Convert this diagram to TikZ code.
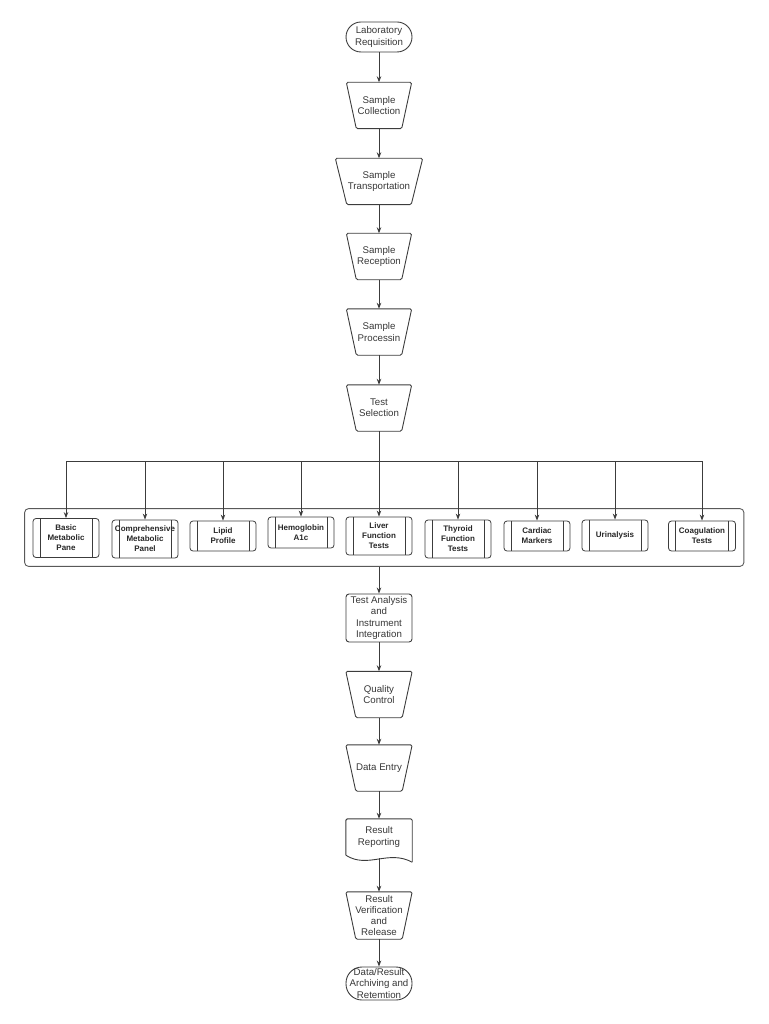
\documentclass[tikz,border=0pt]{standalone}
\usepackage{fontspec}
\setmainfont{Liberation Sans}
\usepackage{xcolor}
\definecolor{lineColor}{RGB}{60, 60, 60}
\definecolor{textColor}{RGB}{55, 55, 55}
\usetikzlibrary{arrows.meta, fit}

\begin{document}
\begin{tikzpicture}[x=1pt, y=-1pt,
    flow/.style={text=textColor, align=center, inner sep=1pt,
        font=\fontsize{9.7}{11.2}\selectfont, minimum width=65pt, minimum height=46pt},
    terminal/.style={flow, draw=lineColor, line width=0.9pt, rounded corners=15pt,
        minimum width=66pt, minimum height=30pt},
    procbox/.style={flow, draw=lineColor, line width=0.9pt, rounded corners=3pt,
        minimum width=66pt, minimum height=48pt},
    testbox/.style={draw=lineColor, line width=0.8pt, rounded corners=3pt, text=black!85,
        minimum width=66pt, minimum height=30pt, align=center, inner sep=1pt,
        font=\bfseries\fontsize{8}{10}\selectfont,
        path picture={\draw[lineColor, line width=0.8pt]
            ([xshift=7pt]path picture bounding box.north west) -- ([xshift=7pt]path picture bounding box.south west)
            ([xshift=-7pt]path picture bounding box.north east) -- ([xshift=-7pt]path picture bounding box.south east);}},
    panelbox/.style={draw=lineColor!85, line width=0.9pt, rounded corners=4pt, inner sep=8pt},
    arrow/.style={-{Stealth[length=6pt, width=4.5pt]}, draw=lineColor, line width=0.9pt},
    border/.style={draw=lineColor, line width=0.9pt, rounded corners=1.5pt}]
    \useasboundingbox (0,0) rectangle (768,1024);

    % main flow, top half
    \node[terminal] (lab) at (379,37) {Laboratory\\Requisition};
    \node[flow] (collect) at (379,105.5) {Sample\\Collection};
    \node[flow, minimum width=87pt] (transp) at (379,181.5) {Sample\\Transportation};
    \node[flow] (recep) at (379,256.5) {Sample\\Reception};
    \node[flow] (proc) at (379,332) {Sample\\Processin};
    \node[flow] (sel) at (379,408) {Test\\Selection};

    % test panel
    \coordinate (bus) at (379,461);
    \node[testbox, minimum height=39pt] (basic) at (66,538) {Basic\\Metabolic\\Pane};
    \node[testbox, minimum height=38pt] (comp) at (145,539) {Comprehensive\\Metabolic\\Panel};
    \node[testbox] (lipid) at (223,536) {Lipid\\Profile};
    \node[testbox, minimum height=31pt] (hemo) at (301,532.5) {Hemoglobin\\A1c};
    \node[testbox, minimum height=38pt] (liver) at (379,536) {Liver\\Function\\Tests};
    \node[testbox, minimum height=38pt] (thyroid) at (458,539) {Thyroid\\Function\\Tests};
    \node[testbox] (cardiac) at (537,536) {Cardiac\\Markers};
    \node[testbox, minimum height=31pt] (urin) at (615,535.5) {Urinalysis};
    \node[testbox, minimum width=67pt] (coag) at (702,536) {Coagulation\\Tests};
    \node[panelbox, fit=(basic) (comp) (hemo) (coag)] (panel) {};

    % main flow, bottom half
    \node[procbox] (analysis) at (379,618) {Test Analysis\\and\\Instrument\\Integration};
    \node[flow, minimum width=66pt] (qc) at (379,694.5) {Quality\\Control};
    \node[flow, minimum width=66pt] (entry) at (379,768) {Data Entry};
    \node[flow, minimum width=66pt, minimum height=36pt] (report) at (379,837) {Result\\Reporting};
    \node[flow, minimum width=66pt, minimum height=47pt] (verif) at (379,915.5) {Result\\Verification\\and\\Release};
    \node[terminal, rounded corners=16pt, minimum height=33pt] (arch) at (379,983.5) {Data/Result\\Archiving and\\Retemtion};

    % manual input shapes
    \foreach \n in {collect, recep, proc, sel, qc, entry, verif}
        \draw[border] (\n.north west) -- (\n.north east) -- ([xshift=-10pt]\n.south east)
            -- ([xshift=10pt]\n.south west) -- cycle;
    \draw[border] (transp.north west) -- (transp.north east) -- ([xshift=-11.5pt]transp.south east)
        -- ([xshift=11.5pt]transp.south west) -- cycle;
    % document shape
    \draw[border] (report.south west) -- (report.north west) -- (report.north east)
        -- ([yshift=-7pt]report.south east);
    \draw[lineColor, line width=0.9pt] (report.south west)
        .. controls ([xshift=22pt, yshift=-14pt]report.south west)
        and ([xshift=-24pt, yshift=6pt]report.south east) .. ([yshift=-7pt]report.south east);

    % connectors
    \draw[arrow] (lab) -- (collect);
    \draw[arrow] (collect) -- (transp);
    \draw[arrow] (transp) -- (recep);
    \draw[arrow] (recep) -- (proc);
    \draw[arrow] (proc) -- (sel);
    \draw[arrow] (sel.south) -- (liver.north);
    \draw[{Stealth[length=6pt, width=4.5pt]}-{Stealth[length=6pt, width=4.5pt]}, draw=lineColor, line width=0.9pt]
        (basic.north) -- (basic.north |- bus) -- (coag.north |- bus) [rounded corners=3pt] -- (coag.north);
    \foreach \t in {comp, lipid, hemo, thyroid, cardiac, urin}
        \draw[arrow] (\t.north |- bus) -- (\t.north);
    \draw[arrow] (analysis.north |- panel.south) -- (analysis.north);
    \draw[arrow] (analysis) -- (qc);
    \draw[arrow] (qc) -- (entry);
    \draw[arrow] (entry) -- (report);
    \draw[arrow] ([yshift=-3pt]report.south) -- (verif.north);
    \draw[arrow] (verif) -- (arch);
\end{tikzpicture}
\end{document}
